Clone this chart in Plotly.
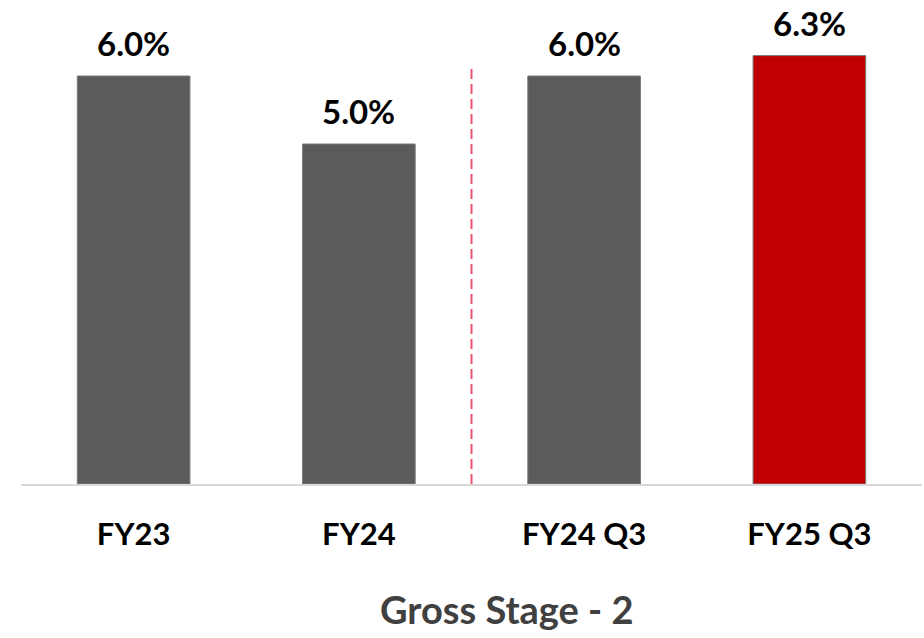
import plotly.graph_objects as go

categories = ["FY23", "FY24", "FY24 Q3", "FY25 Q3"]
values = [6.0, 5.0, 6.0, 6.3]
bar_colors = ["#5b5b5b", "#5b5b5b", "#5b5b5b", "#c00000"]
value_labels = [f"{v:.1f}%" for v in values]
title_text = "Gross Stage - 2"

FONT = "Lato, 'Open Sans', sans-serif"

fig = go.Figure()
fig.add_trace(go.Bar(
    x=categories,
    y=values,
    marker=dict(color=bar_colors, line=dict(color="#7a7a7a", width=1)),
    width=0.5,
    hoverinfo="skip",
))

for c, v, t in zip(categories, values, value_labels):
    fig.add_annotation(
        x=c, y=v, xref="x", yref="y", text=f"<b>{t}</b>",
        showarrow=False, yanchor="bottom", yshift=11,
        font=dict(family=FONT, size=33, color="#000000"),
    )

# separator between annual and quarterly figures
fig.add_shape(
    type="line", xref="x", yref="y",
    x0=1.5, x1=1.5, y0=0, y1=6.15,
    line=dict(color="#e8566e", width=2, dash="10px,5px"),
)

fig.add_annotation(
    x=0.539, y=0, xref="paper", yref="paper", yshift=-125,
    text=f"<b>{title_text}</b>", showarrow=False, yanchor="middle",
    font=dict(family=FONT, size=38, color="#404040"),
)

fig.update_layout(
    width=924, height=638,
    margin=dict(l=21, r=2, t=20, b=154),
    plot_bgcolor="white", paper_bgcolor="white",
    showlegend=False,
    bargap=0.5,
    xaxis=dict(
        showline=True, linecolor="#d9d9d9", linewidth=2,
        showgrid=False, zeroline=False,
        tickfont=dict(family=FONT, size=31, color="#000000"),
        ticks="", ticklabelstandoff=22,
        tickvals=categories,
        ticktext=[f"<b>{c}</b>" for c in categories],
        range=[-0.5, 3.5],
    ),
    yaxis=dict(
        visible=False, range=[0, 464 / 68],
        showgrid=False, zeroline=False,
    ),
)

fig.write_html("out.html")
